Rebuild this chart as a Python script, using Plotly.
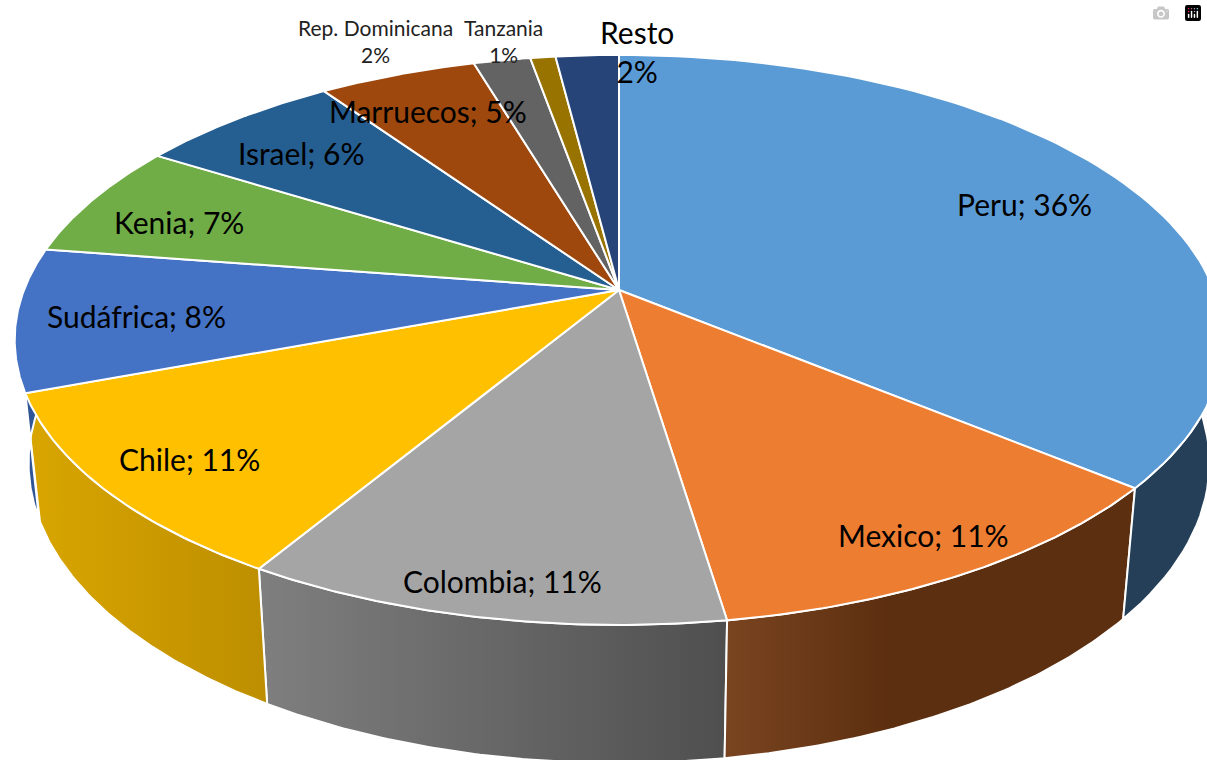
import numpy as np
import plotly.graph_objects as go

# Data (shares as drawn, labels as printed)
countries = ["Peru", "Mexico", "Colombia", "Chile", "Sudáfrica", "Kenia", "Israel",
             "Marruecos", "Rep. Dominicana", "Tanzania", "Resto"]
shares = [36, 11.6, 11, 10.7, 8.1, 6.5, 6.5, 5, 1.8, 0.8, 2]
printed = [36, 11, 11, 11, 8, 7, 6, 5, 2, 1, 2]

top_colors = ["#5b9bd5", "#ed7d31", "#a5a5a5", "#ffc000", "#4472c4", "#70ad47",
              "#255e91", "#9e480e", "#636363", "#997300", "#264478"]
wall_left = ["#243f57", "#7a4420", "#7f7f7f", "#d9a600", "#2f5597", "#4c7a30",
             "#1a4265", "#6e320a", "#444444", "#6b5000", "#1a3054"]
wall_right = ["#243f57", "#5c2f10", "#4f4f4f", "#bd8e00", "#2f5597", "#4c7a30",
              "#1a4265", "#6e320a", "#444444", "#6b5000", "#1a3054"]
wall_stop = [1, 0.4, 1, 1, 1, 1, 1, 1, 1, 1, 1]

# Label layout: x, y, font size
label_pos = {
    "Peru": (1024, 204, 30), "Mexico": (923, 535, 30), "Colombia": (502, 581, 30),
    "Chile": (189, 459, 30), "Sudáfrica": (136, 316, 30), "Kenia": (179, 222, 30),
    "Israel": (301, 153, 30), "Marruecos": (428, 111, 30),
}

# Perspective of the tilted disc
CX, CY, RX, RY, K = 619, 290, 595, 276.3, 0.175
DROP_X, DROP_Y, DROP_C = 0.977, 1.053, 105


def top_xy(t):
    sx, sy = np.sin(t), -np.cos(t)
    d = 1 - K * sy
    return CX + RX * sx / d, CY + RY * sy / d


def low_xy(t):
    x, y = top_xy(t)
    return CX + DROP_X * (x - CX), DROP_Y * y + DROP_C


edges = np.concatenate([[0], np.cumsum(shares)]) / sum(shares) * 2 * np.pi
arcs = [np.linspace(edges[i], edges[i + 1], 80) for i in range(len(shares))]

fig = go.Figure()

# Side walls first, back ones before front ones
order = sorted(range(len(shares)), key=lambda i: -np.cos((edges[i] + edges[i + 1]) / 2), reverse=True)
for i in order:
    xt, yt = top_xy(arcs[i])
    xl, yl = low_xy(arcs[i])
    scale = [[0, wall_left[i]], [wall_stop[i], wall_right[i]]]
    if wall_stop[i] < 1:
        scale.append([1, wall_right[i]])
    fig.add_trace(go.Scatter(
        x=np.concatenate([xt, xl[::-1], xt[:1]]), y=np.concatenate([yt, yl[::-1], yt[:1]]),
        mode="lines", line=dict(color="white", width=2), fill="toself",
        fillgradient=dict(type="horizontal", colorscale=scale),
        hoverinfo="skip"))

# Top faces
for i in range(len(shares)):
    xt, yt = top_xy(arcs[i])
    fig.add_trace(go.Scatter(
        x=np.concatenate([[CX], xt, [CX]]), y=np.concatenate([[CY], yt, [CY]]),
        mode="lines", line=dict(color="white", width=2), fill="toself",
        fillcolor=top_colors[i], hoverinfo="skip"))

for name, val in zip(countries, printed):
    if name in label_pos:
        x, y, size = label_pos[name]
        fig.add_annotation(x=x, y=y, text=f"{name}; {val}%", showarrow=False,
                           font=dict(size=size, color="black"))

fig.add_annotation(x=375, y=41, text="Rep. Dominicana<br>2%", showarrow=False, font=dict(size=21, color="#222222"))
fig.add_annotation(x=503, y=41, text="Tanzania<br>1%", showarrow=False, font=dict(size=21, color="#222222"))
fig.add_annotation(x=637, y=51, text="Resto<br>2%", showarrow=False, font=dict(size=30, color="black"))

fig.update_layout(
    width=1207, height=760, margin=dict(l=0, r=0, t=0, b=0),
    paper_bgcolor="white", plot_bgcolor="white", showlegend=False,
    font=dict(family="Lato, Carlito, sans-serif"),
    xaxis=dict(range=[0, 1207], visible=False, fixedrange=True),
    yaxis=dict(range=[760, 0], visible=False, fixedrange=True),
)

# the page's default body margin would shift the figure by 8px
fig.write_html("out.html", post_script="document.body.style.margin='0';")
